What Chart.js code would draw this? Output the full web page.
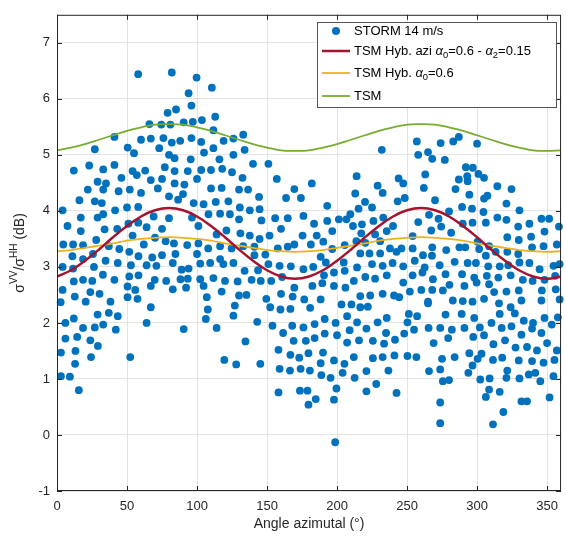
<!DOCTYPE html>
<html>
<head>
<meta charset="utf-8">
<script src="https://cdn.jsdelivr.net/npm/chart.js@4/dist/chart.umd.min.js"></script>
<style>
  body { margin: 0; background: #fff; }
  #wrap { width: 566px; height: 539px; position: relative; }
</style>
</head>
<body>
<div id="wrap"><canvas id="chart"></canvas></div>
<script>
const storm = [
  [58,6.44],[82,6.47],[79,5.75],[85,5.81],[66,5.55],[74.5,5.54],[81,5.54],[41,5.32],[60,5.27],[67,5.29],[76,5.30],[82,5.22],[88,5.25],[27,5.10],[50.5,5.13],[55,5.03],[73,5.12],[80,5.00],[84,4.94],[12,4.72],[23,4.81],[33,4.74],[41,4.82],[54,4.71],[57,4.64],[63,4.72],[77,4.78],[84,4.71],[46,4.59],
  [99.7,6.38],[110.6,6.20],[94,6.10],[96,5.88],[90.5,5.58],[97,5.59],[103.5,5.62],[113,5.68],[111.7,5.44],[96,5.30],[103,5.23],[119,5.25],[126,5.29],[133,5.36],[105,5.04],[111.7,5.12],[134,5.09],[95.5,4.92],[116,4.92],[126,5.00],[140,4.84],[151,4.84],[93.4,4.71],[103,4.73],[110,4.73],[118,4.75],[125,4.69],[132.5,4.59],
  [257,5.24],[232,5.09],[258,5.00],[265,5.05],[268,4.93],[214,4.62],[263,4.65],[244,4.58],
  [274,5.21],[283,5.24],[287,5.32],[300,5.20],[277,4.91],[292,4.78],[297,4.77],[293,4.62],[301,4.66],[305,4.59],
  [29,4.52],[35,4.49],[67,4.55],[75,4.57],[84,4.49],[22,4.38],[33,4.38],[44,4.35],[52,4.38],[60,4.32],[72,4.40],[16,4.19],[27,4.17],[32,4.14],[80,4.26],[86.5,4.20],[4,4.01],[17,3.88],[29,3.88],[33,3.94],[41.5,4.01],[50,4.06],[58,4.07],[69,3.90],[80,3.87],[7.5,3.73],[17,3.64],[34,3.67],[43,3.68],[51,3.77],[58,3.79],[64,3.71],[75,3.68],[4.5,3.40],[11.5,3.40],[18.6,3.39],[28,3.48],[37,3.37],[44.5,3.32],[54,3.56],[62,3.40],[70,3.52],[77.6,3.46],[83.5,3.42],[11,3.19],[18.6,3.14],[25.7,3.23],[34.7,3.11],[43.4,3.07],[51.6,3.27],[58.2,3.19],[68,3.17],[75,3.21],[84.6,3.23],[4,3.00],[11.5,2.97],[26.4,3.00],[52.8,3.03],[64,3.03],[71,3.02],[82.7,3.07],[12,2.74],[18.6,2.77],[25.2,2.75],[32.8,2.86],[41,2.77],[51.6,2.83],[58.2,2.85],[69.8,2.77],[78,2.75],[88.2,2.78],[4,2.59],[12.7,2.47],[23.8,2.55],[30.4,2.52],[50.4,2.65],[55.9,2.59],[67,2.66],[82.7,2.60],[20.5,2.38],[38.2,2.38],[50.4,2.46],[57.5,2.43],[2.6,2.37],[90,4.3],
  [67,2.28],[29,2.15],[37,2.18],[43.4,2.12],[6,2.00],[12,2.08],[18.6,1.91],[27,1.92],[33,1.97],[42,1.88],[64,2.00],[6,1.72],[14.4,1.75],[23.8,1.69],[29.2,1.59],[2.8,1.47],[13.2,1.50],[24.3,1.39],[12.9,1.27],[52.3,1.39],[2.8,1.05],[9.2,1.04],[15.6,0.80],
  [91,4.47],[100,4.57],[110,4.40],[117.6,4.41],[130,4.38],[136.5,4.38],[157,4.57],[169.5,4.39],[144.3,4.25],[163.6,4.23],[174.2,4.23],[97.6,4.14],[104.7,4.12],[113.4,4.16],[122.4,4.17],[130.6,4.06],[137.7,4.01],[144.7,4.03],[108.2,3.94],[116.5,3.95],[123.5,3.94],[96.4,3.88],[101,3.73],[130,3.85],[146,3.83],[155.8,3.87],[164.8,3.87],[176,3.91],[160,3.68],[121,3.65],[114,3.58],[131,3.60],[137.7,3.56],[144.7,3.50],[151.8,3.56],[175.4,3.56],[93,3.39],[101,3.42],[108,3.33],[116.5,3.37],[124.7,3.33],[133,3.37],[141,3.36],[157.7,3.33],[164.8,3.36],[169.5,3.40],[100,3.23],[116.5,3.14],[102.3,3.06],[109.4,3.07],[118.8,3.05],[126,3.07],[141,3.21],[148.8,3.22],[151,3.05],[159,3.02],[167,3.01],[176,2.96],[89,2.95],[94,2.97],[134,2.93],[143.6,2.94],[93.4,2.79],[102.3,2.78],[111.7,2.80],[120,2.75],[129,2.74],[139,2.77],[145.5,2.75],[153,2.75],[160.8,2.82],[92.2,2.63],[104.7,2.66],[117.6,2.56],[169.5,2.63],[107,2.46],[130,2.49],[135.3,2.50],[149.5,2.43],[160,2.52],[168.3,2.47],[176.6,2.42],
  [127,2.31],[107.7,2.24],[126,2.13],[106.3,2.07],[90.5,1.89],[114,1.91],[143,2.02],[134.6,1.67],[119.5,1.34],[128,1.26],[145.2,1.27],[152.3,2.28],[159.6,2.24],[166.7,2.25],[180.8,2.27],[153.9,1.95],[161.5,1.82],[168,1.95],[176,1.92],[169,1.68],[177.7,1.68],[158.2,1.52],[166.7,1.43],[173,1.38],[179.6,1.46],[159,1.18],[166.4,1.15],[174,1.18],[180.6,1.15],[158.2,0.76],[173.5,0.79],[178.9,0.79],[179.6,0.54],
  [182,4.49],[229,4.45],[232.6,4.32],[247.3,4.49],[262,4.41],[213,4.31],[220,4.16],[225,4.06],[215.4,4.04],[193,4.09],[243.3,4.17],[248.4,4.23],[270,4.19],[209.5,3.94],[206.7,3.85],[201.3,3.85],[183.6,3.77],[193,3.82],[211.4,3.73],[217.8,3.76],[226,3.82],[233,3.88],[240,3.73],[258,3.80],[265.7,3.93],[272.5,3.86],[267.3,3.65],[185.5,3.56],[196.6,3.64],[217.3,3.60],[227.2,3.58],[235.5,3.64],[181.3,3.40],[190.2,3.45],[205.5,3.39],[213.8,3.46],[220.2,3.43],[230.8,3.46],[237.8,3.33],[246,3.33],[254,3.55],[254,3.33],[268,3.35],[188.3,3.18],[196.6,3.32],[216.6,3.24],[223.2,3.24],[230.8,3.24],[242.5,3.27],[261.4,3.21],[267.8,3.20],[183,3.00],[192,3.08],[204.8,3.08],[214.3,2.99],[225,3.05],[232.6,3.02],[239.7,3.07],[247.3,3.01],[255.5,3.11],[262.6,2.99],[190.7,2.85],[197.8,2.90],[205.5,2.93],[212,2.75],[220.2,2.82],[227.2,2.79],[235.5,2.85],[247.3,2.72],[254,2.85],[261,2.90],[268.5,2.78],[182.4,2.66],[189.5,2.71],[197.8,2.66],[206,2.63],[216.6,2.48],[223.7,2.49],[232.6,2.52],[240.7,2.49],[252,2.56],[260.2,2.59],[268,2.59],[188.3,2.42],[244.4,2.46],[265,2.38],
  [203.2,2.33],[210.3,2.33],[216.6,2.28],[222,2.29],[265,2.35],[207.2,2.12],[214.3,2.01],[229,2.01],[235.5,2.09],[251.3,2.16],[257.2,2.12],[250.3,2.01],[184,1.98],[191.2,2.07],[199,2.00],[221,1.90],[209,1.87],[235,1.82],[255,1.88],[248,1.81],[265.4,1.91],[184,1.73],[191.2,1.81],[200,1.78],[207.2,1.65],[215.7,1.69],[225.6,1.68],[233.6,1.63],[241.4,1.70],[269,1.64],[190,1.47],[197.8,1.33],[205.3,1.27],[212,1.39],[225.6,1.37],[232.6,1.39],[241,1.42],[250.3,1.41],[256.7,1.39],[188.3,1.28],[188.8,1.07],[195.4,1.02],[204,1.11],[212.6,1.02],[221,1.14],[236.7,1.15],[265.7,1.14],[199.6,0.83],[221,0.78],[228,0.91],[242.5,0.75],[184.8,0.64],[197.8,0.63],[198.7,-0.13],
  [287,4.56],[293.3,4.53],[284.6,4.39],[294.5,4.29],[314.5,4.44],[324.6,4.39],[305,4.22],[307.4,4.27],[289.3,4.07],[296.4,4.04],[321,4.13],[304.6,3.98],[280,3.99],[330.3,4.01],[274.4,3.72],[281.5,3.61],[289.8,3.77],[296.8,3.79],[306.3,3.79],[314.5,3.88],[321,3.84],[329.4,3.72],[337.4,3.77],[346,3.86],[351.5,3.86],[348.2,3.63],[358.5,3.72],[321.6,3.53],[338.6,3.54],[329.8,3.48],[278,3.30],[287.4,3.35],[291.6,3.35],[300.4,3.45],[308.6,3.37],[301.5,3.32],[321.6,3.27],[329.4,3.23],[339.3,3.35],[347.5,3.37],[357,3.40],[306.3,3.20],[313.3,3.27],[273.3,3.03],[284,3.09],[293.3,3.07],[299.2,3.07],[308,3.01],[316.2,3.01],[322.3,3.03],[330.3,3.08],[337.4,3.07],[344.7,2.96],[354.6,3.02],[359,3.05],[277.5,2.87],[289.3,2.87],[298,2.81],[307,2.84],[315.2,2.81],[324,2.85],[332.7,2.77],[339.7,2.75],[348.2,2.77],[355.8,2.84],[280.3,2.68],[291,2.66],[299.7,2.72],[308.6,2.69],[275.6,2.58],[312.2,2.55],[321,2.56],[329.8,2.58],[346.3,2.58],[356.2,2.60],[305,2.43],[331.7,2.40],[346,2.40],[359,2.42],[296.8,2.38],
  [315.7,2.35],[324,2.28],[277.5,2.15],[289,2.16],[298,2.09],[316.2,2.16],[327,2.17],[333.4,2.04],[340,2.00],[348.2,2.09],[357.7,2.10],[273.7,1.91],[282,1.88],[291,1.91],[302,1.92],[310.3,2.00],[317.6,1.91],[324.6,1.94],[339.3,1.90],[346,1.82],[353.4,1.97],[279.4,1.73],[297.3,1.75],[305,1.78],[320,1.69],[331.7,1.79],[311.7,1.62],[327.5,1.56],[335.7,1.57],[342.8,1.51],[350,1.64],[357,1.51],[275,1.36],[284,1.39],[294.5,1.46],[300.4,1.36],[303.2,1.45],[311.4,1.34],[318,1.38],[329.8,1.33],[339.3,1.32],[347.5,1.29],[355.3,1.34],[273.7,1.17],[296.8,1.24],[293.8,1.11],[321.6,1.15],[321,1.02],[330.3,1.01],[337,1.08],[341.6,1.11],[345.2,0.96],[354.6,1.05],[275.6,0.96],[280,0.98],[302.3,0.99],[309,1.01],[308.6,0.81],[316.2,0.77],[306.3,0.68],[273.7,0.58],[331.7,0.60],[335.7,0.60],[351.8,0.67],[318.8,0.41],[273.7,0.21],[311.4,0.19],[282.7,2.40],[289.8,2.39]
];

// model curves, sampled every 10 degrees
const curveAz = [0,10,20,30,40,50,60,70,80,90,100,110,120,130,140,150,160,170,180,
                 190,200,210,220,230,240,250,260,270,280,290,300,310,320,330,340,350,360];
const tsmHybAzi = [2.83,2.94,3.11,3.31,3.53,3.73,3.90,4.01,4.05,4.01,3.90,3.73,3.53,3.31,3.11,2.94,2.83,2.79,2.83,
                   2.94,3.11,3.31,3.53,3.73,3.90,4.01,4.05,4.01,3.90,3.73,3.53,3.31,3.11,2.94,2.83,2.79,2.83];
const tsmHyb = [3.28,3.30,3.34,3.38,3.42,3.47,3.50,3.52,3.53,3.52,3.50,3.47,3.42,3.38,3.34,3.30,3.28,3.27,3.28,
                3.30,3.34,3.38,3.42,3.47,3.50,3.52,3.53,3.52,3.50,3.47,3.42,3.38,3.34,3.30,3.28,3.27,3.28];
const tsm = [5.08,5.13,5.19,5.27,5.35,5.43,5.49,5.54,5.55,5.54,5.49,5.43,5.35,5.27,5.19,5.13,5.08,5.07,5.08,
             5.13,5.19,5.27,5.35,5.43,5.49,5.54,5.55,5.54,5.49,5.43,5.35,5.27,5.19,5.13,5.08,5.07,5.08];

const FONT = '"Liberation Sans", Arial, Helvetica, sans-serif';
const INK = '#262626';

// draw text made of pieces: [text, style] with style '', 'i', 'sub', 'sup'
function richWidth(ctx, parts, size) {
  let w = 0;
  parts.forEach(([t, s]) => {
    const sz = (s === 'sub' || s === 'sup') ? size * 0.72 : size;
    ctx.font = (s === 'i' ? 'italic ' : '') + sz + 'px ' + FONT;
    w += ctx.measureText(t).width;
  });
  return w;
}
function drawRich(ctx, parts, x, y, size) {
  ctx.textBaseline = 'middle';
  ctx.textAlign = 'left';
  parts.forEach(([t, s]) => {
    let sz = size, dy = 0;
    if (s === 'sub') { sz = size * 0.72; dy = size * 0.32; }
    if (s === 'sup') { sz = size * 0.72; dy = -size * 0.42; }
    ctx.font = (s === 'i' ? 'italic ' : '') + sz + 'px ' + FONT;
    ctx.fillText(t, x, y + dy);
    x += ctx.measureText(t).width;
  });
}

const decor = {
  id: 'decor',
  afterDraw(chart) {
    const { ctx, chartArea: a, scales: { x, y } } = chart;
    ctx.save();
    ctx.strokeStyle = INK;
    ctx.lineWidth = 1;
    ctx.strokeRect(a.left + 0.5, a.top + 0.5, a.right - a.left - 1, a.bottom - a.top - 1);
    ctx.beginPath();
    x.ticks.forEach(t => {
      const px = Math.round(x.getPixelForValue(t.value)) + 0.5;
      ctx.moveTo(px, a.bottom); ctx.lineTo(px, a.bottom - 5);
      ctx.moveTo(px, a.top); ctx.lineTo(px, a.top + 5);
    });
    y.ticks.forEach(t => {
      const py = Math.round(y.getPixelForValue(t.value)) + 0.5;
      ctx.moveTo(a.left, py); ctx.lineTo(a.left + 5, py);
      ctx.moveTo(a.right, py); ctx.lineTo(a.right - 5, py);
    });
    ctx.stroke();

    // axis titles
    ctx.fillStyle = INK;
    ctx.font = '14px ' + FONT;
    ctx.textAlign = 'center';
    ctx.textBaseline = 'middle';
    ctx.fillText('Angle azimutal (°)', (a.left + a.right) / 2, 524);

    const yParts = [['σ', ''], ['VV', 'sup'], ['/σ', ''], ['HH', 'sup'], [' (dB)', '']];
    ctx.save();
    ctx.translate(20, (a.top + a.bottom) / 2);
    ctx.rotate(-Math.PI / 2);
    const w = richWidth(ctx, yParts, 14);
    drawRich(ctx, yParts, -w / 2, 0, 14);
    ctx.restore();

    // legend
    const lx = 317, ly = 22, lw = 239, lh = 85;
    ctx.fillStyle = '#fff';
    ctx.fillRect(lx, ly, lw, lh);
    ctx.strokeStyle = '#555';
    ctx.strokeRect(lx + 0.5, ly + 0.5, lw, lh);
    const rows = [
      { y: 31, kind: 'dot', color: '#0072BD', parts: [['STORM 14 m/s', '']] },
      { y: 51, kind: 'line', color: '#A2142F', width: 2.5,
        parts: [['TSM Hyb. azi ', ''], ['α', 'i'], ['0', 'sub'], ['=0.6 - ', ''], ['α', 'i'], ['2', 'sub'], ['=0.15', '']] },
      { y: 73, kind: 'line', color: '#EDB120', width: 1.8,
        parts: [['TSM Hyb. ', ''], ['α', 'i'], ['0', 'sub'], ['=0.6', '']] },
      { y: 96, kind: 'line', color: '#77AC30', width: 1.8, parts: [['TSM', '']] }
    ];
    rows.forEach(r => {
      if (r.kind === 'dot') {
        ctx.fillStyle = r.color;
        ctx.beginPath(); ctx.arc(336, r.y, 4, 0, Math.PI * 2); ctx.fill();
      } else {
        ctx.strokeStyle = r.color; ctx.lineWidth = r.width;
        ctx.beginPath(); ctx.moveTo(322, r.y); ctx.lineTo(350, r.y); ctx.stroke();
      }
      ctx.fillStyle = '#000';
      drawRich(ctx, r.parts, 354, r.y, 13);
    });
    ctx.restore();
  }
};

const line = (vals) => curveAz.map((az, i) => ({ x: az, y: vals[i] }));

new Chart(document.getElementById('chart'), {
  type: 'scatter',
  data: {
    datasets: [
      { label: 'STORM 14 m/s', data: storm.map(p => ({ x: p[0], y: p[1] })),
        backgroundColor: '#0072BD', borderWidth: 0, pointRadius: 3.9, order: 10, clip: false },
      { label: 'TSM Hyb. azi', data: line(tsmHybAzi), showLine: true, borderColor: '#A2142F',
        borderWidth: 2.5, pointRadius: 0, tension: 0.4, order: 1 },
      { label: 'TSM Hyb.', data: line(tsmHyb), showLine: true, borderColor: '#EDB120',
        borderWidth: 1.8, pointRadius: 0, tension: 0.4, order: 2 },
      { label: 'TSM', data: line(tsm), showLine: true, borderColor: '#77AC30',
        borderWidth: 1.8, pointRadius: 0, tension: 0.4, order: 3 }
    ]
  },
  options: {
    responsive: true,
    maintainAspectRatio: false,
    animation: false,
    devicePixelRatio: 1,
    layout: { padding: { top: 13, right: 1, left: 0, bottom: 0 } },
    plugins: { legend: { display: false }, tooltip: { enabled: false } },
    scales: {
      x: {
        type: 'linear', min: 0, max: 360,
        ticks: { stepSize: 50, includeBounds: false, padding: 8, color: INK, font: { family: FONT, size: 13 } },
        grid: { color: '#e3e3e3', drawTicks: false },
        border: { display: false },
        afterFit(s) { s.height = 48; }
      },
      y: {
        min: -1, max: 7.5,
        ticks: { stepSize: 1, includeBounds: false, padding: 7, color: INK, font: { family: FONT, size: 13 } },
        grid: { color: '#e3e3e3', drawTicks: false },
        border: { display: false },
        afterFit(s) { s.width = 57; }
      }
    }
  },
  plugins: [decor]
});
</script>
</body>
</html>
